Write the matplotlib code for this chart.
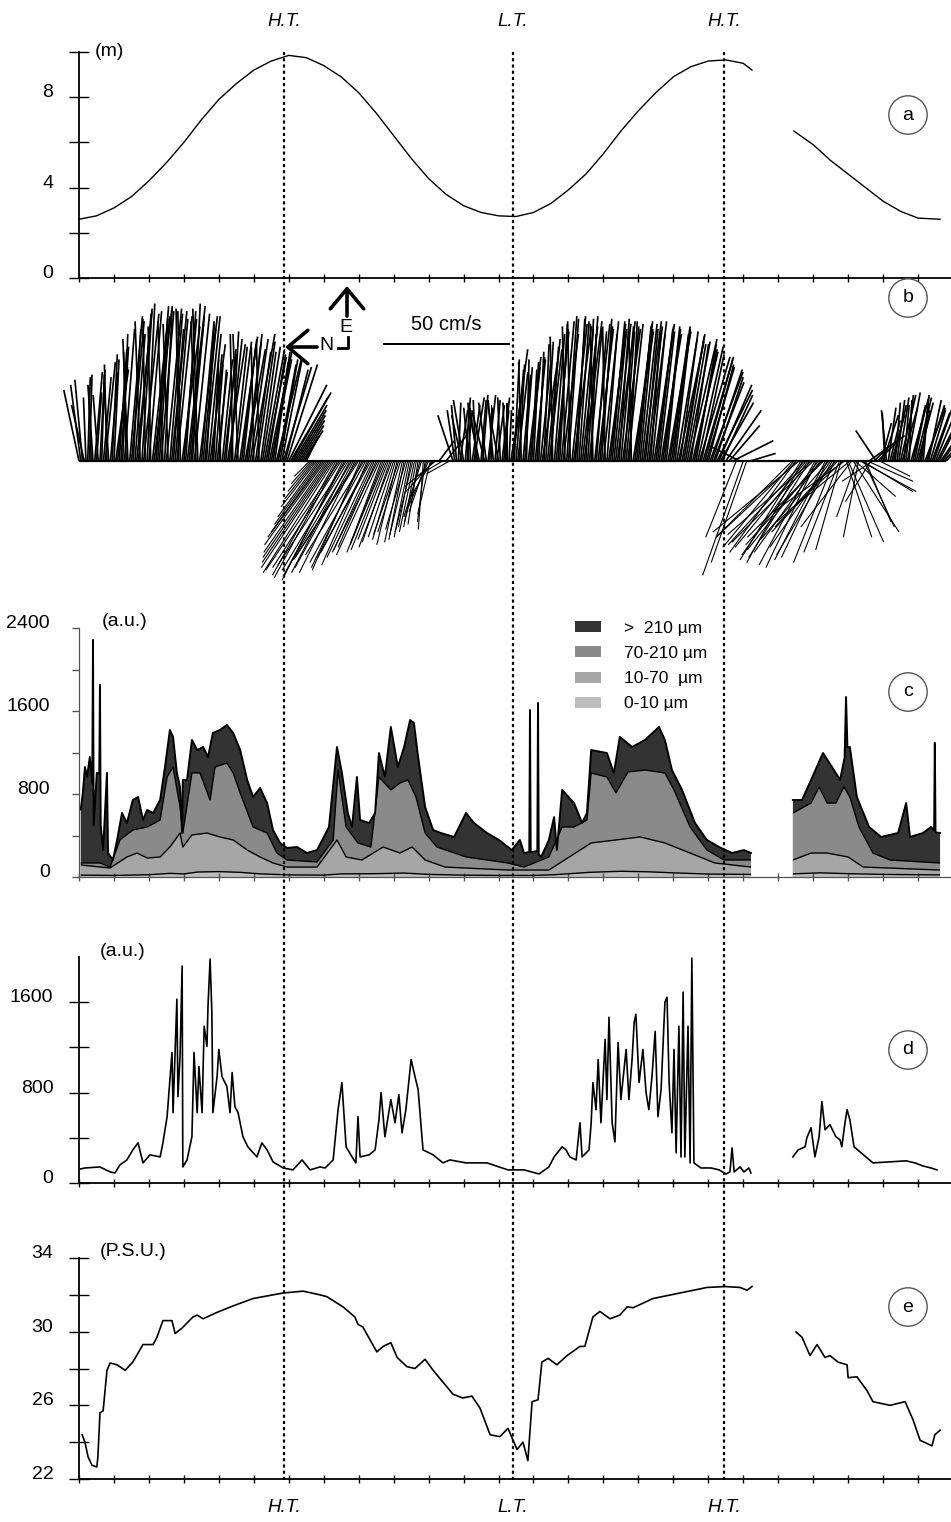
import numpy as np
import matplotlib
matplotlib.use("Agg")
import matplotlib.pyplot as plt
from matplotlib.path import Path
from matplotlib.lines import Line2D

plt.rcParams['font.family'] = ['Liberation Sans', 'DejaVu Sans']

nan = np.nan
W, H = 951, 1522          # output size in pixels (dpi 100)
LEFT = 79                 # x pixel of the time origin
PX_PER_HOUR = 34.96

# tide marks (hours from start of record)
tide_labels = ['H.T.', 'L.T.', 'H.T.']
tide_hours = [5.87, 12.42, 18.46]

# (a) water height (m)
height_t = [0, 0.5, 1, 1.5, 2, 2.5, 3, 3.5, 4, 4.5, 5, 5.5, 6, 6.5, 7, 7.5, 8, 8.5, 9, 9.5,
            10, 10.5, 11, 11.5, 12, 12.5, 13, 13.5, 14, 14.5, 15, 15.5, 16, 16.5, 17, 17.5,
            18, 18.5, 19, 19.25, nan, 20.45, 21, 21.5, 22, 22.5, 23, 23.5, 24, 24.63]
height_m = [2.6, 2.75, 3.1, 3.6, 4.3, 5.1, 6.0, 7.0, 7.9, 8.6, 9.2, 9.6, 9.85, 9.75, 9.4, 8.9,
            8.2, 7.3, 6.3, 5.3, 4.4, 3.7, 3.2, 2.9, 2.75, 2.72, 2.9, 3.3, 3.9, 4.6, 5.5, 6.5,
            7.4, 8.2, 8.9, 9.35, 9.6, 9.65, 9.5, 9.2, nan, 6.5, 5.9, 5.2, 4.6, 4.0, 3.4, 2.95,
            2.65, 2.6]

# (b) current sticks every 0.1 h (cm/s)
stick_t = np.concatenate([np.linspace(0.0, 10.6, 107), np.linspace(10.7, 19.2, 86),
                          np.linspace(20.4, 24.8, 45)])
east = [28, 32, 25, 34, 30, 27, 36, 33, 38, 35, 40, 37, 45, 52, 48, 55, 50, 58,
        60, 56, 59, 54, 61, 57, 55, 60, 58, 52, 57, 59, 56, 61, 54, 58, 60, 55,
        57, 50, 42, 38, 36, 40, 44, 48, 50, 47, 49, 46, 50, 48, 45, 47, 43, 44,
        42, 40, 43, 38, 40, 36, 30, 25, 20, 16, 12, 8, -6, -12, -18, -25, -30, -36,
        -40, -44, -46, -42, -45, -43, -40, -44, -38, -42, -40, -36,
        -38, -34, -37, -33, -35, -32, -30, -33, -28, -31, -29, -26,
        -28, -25, -22, -24, -18, -15, -10, 8, -6, 10, -5,
        18, 22, 20, 24, 19, 23, 25, 21, 24, 20, 26, 22, 24, 21, 25, 23, 20, 44,
        36, 38, 34, 40, 37, 39, 41, 38, 46, 48, 45, 50, 52, 55, 53, 56, 54, 57,
        55, 53, 56, 52, 54, 51, 53, 55, 50, 54, 52, 55, 53, 51, 54, 52, 55, 53,
        54, 52, 55, 50, 53, 51, 52, 49, 53, 50, 48, 51, 49, 47, 46, 44, 45, 42,
        40, 38, 36, 33, 30, 26, 20, 14, 8, -30, 6, -45, -40, 3,
        -30, -36, -28, -40, -34, -38, -32, -42, -36, -30, -38, -34,
        -40, -28, -35, -20, -32, -26, -14, -30, -12, -24, 10, -8,
        12, -6, 18, 20, 16, 22, 24, 26, 22, 27, 25, 20, 23, 26, 21, 24, 19, 22,
        20, 17, 14]
north = [6, 3, 1, -1, 2, -2, -2, -3, 1, -3, -2, -4, -3, -4, 2, -5, -4, -5,
         -4, 1, -5, -6, -5, -4, 2, -6, -5, -4, -6, 1, -5, -7, -5, -6, 2, -5,
         -6, -5, -4, -3, -3, -4, -4, -5, 1, -6, -7, -5, -6, -7, 1, -7, -6, -8,
         -7, -8, -6, -7, -8, -9, -15, -14, -12, -10, -8, -4, 6, 10, 14, 18, 22, 25,
         27, 28, 25, 27, 24, 26, 24, 22, 25, 20, 22, 19,
         18, 15, 17, 13, 14, 11, 10, 8, 9, 6, 7, 5,
         6, 4, 7, 3, 8, 9, 12, -6, 10, -8, 9,
         6, 2, -3, 4, -2, 1, -4, 3, -2, 5, -3, 0, -2, 4, -3, 1, -1, -6,
         -3, -2, -3, -1, -4, -2, -3, -4, -2, -5, -3, -4, -4, -5, 1, -4, -6, -4,
         -4, -6, -3, -5, 1, -4, -5, -6, -4, -6, -5, -7, -5, -4, -6, 1, -7, -5,
         -6, -5, -7, -5, -7, -6, -7, -5, -8, -6, -8, -7, -8, -9, -7, -9, -10, -9,
         -11, -10, -12, -11, -13, -12, -14, -12, -16, 12, 12, 16, 14, -10,
         30, 26, 34, 22, 28, 24, 32, 20, 26, 30, 18, 24,
         16, 26, 10, 28, -14, 20, -16, 6, -20, -10, -14, 12,
         8, -12, -6, 2, -4, -5, -3, -6, -2, -5, -7, -4, -6, -3, -8, -5, -7, -9,
         -10, -12, -14]
# extra sticks at the half-steps where the record is densest
stick_t_half = np.concatenate([np.linspace(0.05, 6.45, 65), np.linspace(6.65, 10.15, 36),
                               np.linspace(10.75, 12.35, 17), np.linspace(12.45, 18.35, 60),
                               np.linspace(22.85, 24.75, 20), np.linspace(20.45, 22.75, 24)])
east_half = [30, 22, 33, 29, 35, 26, 34, 39, 31, 42, 36, 44, 50, 43, 57, 52, 59, 55,
             58, 62, 53, 60, 56, 59, 61, 54, 59, 56, 60, 53, 59, 57, 62, 55, 57, 52,
             54, 46, 40, 35, 38, 42, 46, 51, 45, 50, 48, 44, 47, 50, 43, 46, 45, 41,
             44, 39, 41, 40, 37, 38, 27, 22, 18, 14, 10,
             -9, -15, -22, -28, -33, -38, -42, -45, -43, -47, -41, -44,
             -42, -39, -43, -37, -41, -38, -35, -36, -32, -36, -31, -34,
             -31, -29, -32, -27, -30, -28, -26, -24, -27, -20, -21, -12,
             20, 23, 18, 25, 21, 22, 24, 19, 26, 23, 21, 24, 22, 25, 20, 23, 30,
             40, 35, 39, 37, 41, 36, 40, 43, 39, 47, 44, 49, 51, 54, 50, 57, 55, 53,
             56, 52, 55, 57, 50, 54, 52, 56, 53, 51, 55, 54, 56, 52, 53, 55, 51, 54,
             52, 55, 53, 51, 54, 52, 50, 53, 51, 49, 52, 47, 50, 46, 48, 43, 46, 41,
             41, 37, 35, 31, 28, 23,
             8, 15, 19, 21, 18, 23, 25, 21, 26, 24, 22, 25, 20, 24, 22, 20, 23, 18, 16, 15,
             -34, -30, -39, -33, -37, -29, -41, -35, -33, -39, -31, -37,
             -26, -36, -24, -30, -18, -28, -22, -12, -26, -8, -16, 6]
north_half = [4, 5, -1, 1, -3, 2, -1, -4, 2, -2, -5, -3, -2, 1, -5, -3, -6, 2,
              -6, -3, 1, -7, -4, -5, -3, 2, -6, -5, 1, -7, -4, -6, -3, 2, -7, -5,
              -3, -6, -2, -4, 1, -5, -7, -3, -5, 2, -6, -8, -5, -9, -6, 1, -7, -8,
              -9, -6, -10, -7, -11, -12, -16, -13, -11, -9, -6,
              8, 12, 16, 20, 24, 26, 28, 25, 29, 24, 27, 23,
              23, 25, 19, 23, 18, 21, 16, 18, 12, 15, 12, 13,
              9, 10, 7, 8, 6, 7, 5, 6, 2, 7, 5, 11,
              3, -1, 4, -2, 2, -3, 1, 4, -2, 3, -1, 2, -3, 1, -2, 0, -5,
              -2, -4, 1, -3, -5, -2, -4, -2, -6, -3, -5, 1, -5, -3, -6, -4, 1, -7,
              -3, -5, -7, -4, -2, -6, -6, -4, 1, -7, -5, -6, -4, -7, -5, -3, -8, -6,
              -5, -7, -6, -4, -8, -6, -8, -6, -9, -7, -6, -10, -9, -8, -11, -10, -8, -12,
              -12, -11, -13, -12, -14, -13,
              -8, -4, 1, -3, -5, -2, -4, -6, -3, -1, -5, -6, -4, -2, -7, -6, -8, -9, -11, -13,
              28, 32, 24, 30, 26, 33, 22, 28, 30, 20, 27, 22,
              24, 14, 26, -10, 22, -18, 8, -22, -12, -18, 10, -6]

# (c) particle concentration by size class (a.u.), cumulative levels
c_top_t = [0.05, 0.11, 0.17, 0.23, 0.31, 0.38, 0.40, 0.42, 0.51, 0.58, 0.60, 0.62, 0.69, 0.80,
           0.83, 0.97, 1.09, 1.23, 1.37, 1.54, 1.69, 1.83, 1.95, 2.12, 2.32, 2.46, 2.60, 2.69,
           2.80, 2.89, 2.95, 2.97, 3.09, 3.23, 3.38, 3.55, 3.69, 3.83, 4.03, 4.23, 4.41, 4.61,
           4.81, 4.98, 5.18, 5.38, 5.55, 5.75, 5.95, 6.24, 6.52, 6.81, 7.15, 7.38, 7.52, 7.69,
           7.81, 7.95, 8.04, 8.30, 8.47, 8.58, 8.75, 8.92, 9.12, 9.30, 9.47, 9.58, 9.70, 9.90,
           10.13, 10.35, 10.73, 11.07, 11.30, 11.67, 12.01, 12.38, 12.61, 12.73, 12.88, 12.90,
           12.92, 13.11, 13.13, 13.15, 13.22, 13.44, 13.59, 13.67, 13.82, 14.16, 14.39, 14.53,
           14.65, 15.10, 15.30, 15.47, 15.82, 16.19, 16.59, 16.76, 16.96, 17.25, 17.62, 17.96,
           18.31, 18.68, 19.02, 19.22, nan, 20.42, 20.68, 20.94, 21.28, 21.54, 21.77, 21.90,
           21.94, 21.98, 22.05, 22.25, 22.60, 22.94, 23.43, 23.66, 23.77, 24.14, 24.37, 24.46,
           24.48, 24.50, 24.63]
c_top = [650, 810, 1060, 964, 1157, 900, 2285, 500, 1003, 1000, 1851, 500, 260, 1003,
         231, 164, 357, 617, 520, 742, 771, 549, 646, 617, 742, 1060, 1417, 1350,
         1003, 868, 424, 935, 935, 1321, 1224, 1253, 1157, 1388, 1417, 1465, 1388, 1224,
         935, 771, 858, 713, 453, 328, 280, 289, 231, 260, 482, 1253, 1003, 617,
         482, 964, 549, 520, 617, 1195, 964, 1446, 1060, 1253, 1513, 1485, 1157, 675,
         453, 424, 386, 617, 520, 424, 357, 260, 357, 231, 240, 1610,
         240, 250, 1677, 220, 193, 357, 578, 260, 839, 713, 520, 617,
         1224, 1195, 1003, 1350, 1253, 1321, 1446, 1321, 1031, 839, 520, 357,
         289, 231, 260, 231, nan, 742, 742, 935, 1195, 1060, 935, 1150,
         1735, 1250, 1253, 771, 482, 386, 424, 713, 386, 424, 482, 450,
         1292, 430, 424]
c_mid_t = [0.05, 0.60, 0.89, 1.17, 1.54, 1.95, 2.32, 2.52, 2.69, 2.89, 2.97, 3.23, 3.46, 3.75,
           3.89, 4.23, 4.41, 4.61, 4.98, 5.38, 5.66, 5.95, 6.81, 7.27, 7.41, 7.64, 7.98, 8.35,
           8.58, 8.92, 9.18, 9.41, 9.64, 9.90, 10.24, 11.07, 12.27, 12.73, 13.44, 13.82, 14.16,
           14.53, 14.65, 15.10, 15.36, 15.70, 16.19, 16.76, 17.02, 17.48, 17.96, 18.45, 19.22,
           nan, 20.42, 20.94, 21.17, 21.40, 21.65, 21.88, 22.05, 22.31, 22.71, 23.20, 24.63]
c_mid = [135, 135, 96, 357, 453, 482, 549, 964, 1060, 675, 424, 1003, 1003, 742,
         1060, 1099, 1003, 810, 482, 424, 231, 164, 145, 357, 1031, 482, 328, 289,
         964, 839, 906, 935, 771, 424, 289, 193, 135, 96, 193, 482, 482,
         549, 1003, 964, 810, 1012, 1031, 1003, 839, 482, 260, 164, 164,
         nan, 617, 713, 868, 713, 713, 868, 771, 482, 231, 164, 135]
c_low_t = [0.05, 0.89, 1.37, 1.66, 1.95, 2.32, 2.60, 2.89, 2.97, 3.23, 3.66, 4.03, 4.41, 4.81,
           5.18, 5.55, 5.95, 6.81, 7.38, 7.64, 8.09, 8.70, 9.18, 9.53, 9.90, 10.47, 12.27,
           13.44, 14.65, 15.36, 16.05, 16.76, 17.48, 18.19, 19.22, nan, 20.42, 20.94, 21.40,
           22.00, 22.43, 24.63]
c_low = [116, 87, 193, 231, 183, 193, 289, 424, 289, 405, 424, 386, 357, 260,
         193, 135, 96, 96, 357, 193, 164, 289, 231, 289, 164, 96, 67,
         67, 328, 357, 386, 328, 231, 135, 96, nan, 164, 231, 231,
         193, 96, 67]
c_fine_t = [0.05, 1, 2, 2.6, 3.0, 3.4, 4.0, 4.6, 5.2, 6, 7, 7.5, 8.5, 9.3, 10, 11, 12, 13, 13.6,
            14.6, 15.5, 16.3, 17, 18, 19.22, nan, 20.42, 21.2, 22, 23, 24, 24.63]
c_fine = [18, 15, 22, 35, 30, 48, 52, 45, 30, 20, 18, 30, 32, 38, 25, 18, 15, 15, 22,
          45, 55, 50, 40, 28, 25, nan, 30, 40, 32, 25, 22, 20]
size_classes = ['>  210 µm', '70-210 µm', '10-70  µm', '0-10 µm']
size_colors = ['#333333', '#8a8a8a', '#a6a6a6', '#bcbcbc']

# (d) turbidity (a.u.)
d_t = [0.05, 0.17, 0.60, 0.89, 1.03, 1.17, 1.37, 1.54, 1.69, 1.83, 2.03, 2.32, 2.40, 2.52, 2.66,
       2.69, 2.80, 2.83, 2.89, 2.95, 2.97, 3.09, 3.23, 3.29, 3.38, 3.43, 3.52, 3.58, 3.66, 3.69,
       3.75, 3.80, 3.83, 3.95, 4.00, 4.09, 4.23, 4.32, 4.38, 4.46, 4.55, 4.69, 4.83, 5.09, 5.23,
       5.38, 5.55, 5.84, 6.12, 6.38, 6.61, 6.89, 7.04, 7.27, 7.41, 7.52, 7.64, 7.81, 7.92, 7.98,
       8.04, 8.30, 8.47, 8.58, 8.64, 8.75, 8.92, 9.04, 9.15, 9.24, 9.35, 9.50, 9.61, 9.70, 9.84,
       10.13, 10.41, 10.61, 11.07, 11.67, 12.27, 12.73, 13.16, 13.44, 13.59, 13.82, 13.93, 14.04,
       14.22, 14.33, 14.39, 14.59, 14.65, 14.70, 14.79, 14.85, 14.93, 15.05, 15.10, 15.16, 15.25,
       15.33, 15.42, 15.50, 15.65, 15.73, 15.82, 15.88, 15.93, 16.02, 16.13, 16.22, 16.30, 16.39,
       16.48, 16.56, 16.65, 16.76, 16.82, 16.88, 16.96, 17.02, 17.08, 17.16, 17.22, 17.28, 17.33,
       17.42, 17.48, 17.53, 17.59, 17.79, 18.08, 18.31, 18.51, 18.62, 18.68, 18.74, 18.91, 19.02,
       19.16, 19.22, nan,
       20.42, 20.57, 20.77, 20.82, 20.94, 21.05, 21.17, 21.25, 21.34, 21.48, 21.65, 21.77, 21.82,
       21.91, 21.97, 22.05, 22.17, 22.37, 22.54, 22.71, 23.20, 23.66, 23.91, 24.14, 24.37, 24.54]
d_val = [125, 133, 142, 98, 89, 160, 204, 293, 355, 178, 249, 231, 355, 587, 1155,
         622, 1627, 764, 1120, 1920, 142, 204, 409, 1155, 622, 1031, 622, 1387, 1209, 1564,
         1982, 1511, 622, 942, 1182, 942, 853, 622, 978, 676, 622, 409, 320, 231, 355,
         293, 187, 133, 116, 204, 116, 142, 133, 204, 649, 889, 320, 231, 178, 587,
         231, 249, 293, 560, 800, 409, 738, 533, 782, 444, 649, 1093, 942, 827, 293,
         249, 178, 204, 178, 178, 116, 116, 80, 142, 231, 320, 293, 231,
         204, 533, 231, 293, 533, 889, 649, 1093, 533, 1271, 738, 1467, 533,
         364, 1244, 738, 1182, 738, 1093, 1422, 1493, 889, 1182, 800, 649, 942,
         1342, 587, 827, 1600, 1644, 889, 444, 1182, 267, 1387, 231, 1689, 231,
         1387, 178, 1990, 178, 133, 133, 116, 80, 98, 311, 98, 142, 98,
         133, 89, nan,
         231, 293, 320, 400, 489, 231, 409, 720, 471, 516, 409, 382, 320,
         533, 649, 560, 320, 267, 222, 178, 187, 196, 178, 151, 133, 116]

# (e) salinity (P.S.U.)
sal_t = [0.09, 0.17, 0.26, 0.37, 0.51, 0.54, 0.60, 0.69, 0.80, 0.89, 1.09, 1.32, 1.54, 1.83,
         2.12, 2.23, 2.40, 2.66, 2.75, 2.95, 3.26, 3.38, 3.55, 3.95, 4.41, 4.98, 5.84, 6.41,
         6.89, 7.09, 7.55, 7.89, 7.98, 8.12, 8.52, 8.70, 8.92, 9.10, 9.38, 9.61, 9.90, 10.13,
         10.70, 10.98, 11.24, 11.47, 11.76, 12.04, 12.27, 12.53, 12.70, 12.84, 12.96, 13.13,
         13.24, 13.42, 13.67, 13.96, 14.33, 14.47, 14.70, 14.90, 15.19, 15.47, 15.68, 15.85,
         16.42, 17.19, 17.96, 18.48, 18.91, 19.11, 19.25, nan,
         20.51, 20.68, 20.91, 21.11, 21.34, 21.48, 21.71, 21.97, 22.00, 22.25, 22.54, 22.71,
         23.20, 23.63, 23.86, 24.06, 24.40, 24.48, 24.63]
sal_psu = [24.4, 24.0, 23.2, 22.75, 22.65, 23.2, 25.6, 25.7, 27.9, 28.3, 28.2, 27.9, 28.35, 29.3,
           29.3, 29.7, 30.6, 30.6, 29.9, 30.2, 30.8, 30.9, 30.7, 31.05, 31.4, 31.8, 32.1, 32.2,
           32.0, 31.9, 31.35, 30.8, 30.4, 30.25, 28.9, 29.2, 29.4, 28.6, 28.1, 28.0, 28.5, 27.9,
           26.6, 26.4, 26.5, 25.85, 24.4, 24.3, 24.75, 23.6, 24.0, 23.0, 26.2, 26.3,
           28.35, 28.55, 28.2, 28.7, 29.2, 29.2, 30.8, 31.1, 30.7, 30.9, 31.35, 31.3,
           31.8, 32.1, 32.4, 32.45, 32.4, 32.25, 32.45, nan,
           29.98, 29.7, 28.7, 29.3, 28.6, 28.7, 28.35, 28.2, 27.5, 27.55, 26.8, 26.2,
           26.0, 26.2, 25.2, 24.1, 23.8, 24.4, 24.65]

X_END = (W - LEFT) / PX_PER_HOUR


def fx(px):
    return px / W


def fy(py):
    return 1 - py / H


def panel(top, bottom):
    return fig.add_axes([LEFT / W, 1 - bottom / H, 1 - LEFT / W, (bottom - top) / H])


def style(ax, ylim, yticks, ylabels, ydir='inout', ylen=15, pad=11, color='k', lw=1.3):
    ax.set_xlim(0, X_END)
    ax.set_ylim(*ylim)
    ax.patch.set_visible(False)
    for s in ('top', 'right'):
        ax.spines[s].set_visible(False)
    for s in ('left', 'bottom'):
        ax.spines[s].set_linewidth(lw)
        ax.spines[s].set_color(color)
    ax.set_xticks(np.arange(0, 25))
    ax.tick_params(axis='x', direction='inout', length=6, width=1, color=color,
                   labelbottom=False)
    ax.set_yticks(yticks, ylabels)
    ax.tick_params(axis='y', direction=ydir, length=ylen, width=1, color=color,
                   labelsize=14, pad=pad)
    for lab in ax.get_yticklabels():
        lab.set_va('baseline')


fig = plt.figure(figsize=(W / 100, H / 100), dpi=100)

# (a) tide
ax_a = panel(52, 278)
ax_a.plot(height_t, height_m, color='k', lw=1.0)
style(ax_a, (0, 10), [0, 2, 4, 6, 8, 10], ['0', '', '4', '', '8', ''])

# (b) current sticks: eastward (upward) ones drawn heavier than westward ones
ax_b = panel(290, 632)
ax_b.set_xlim(0, X_END)
ax_b.set_ylim(-1, 1)
ax_b.axis('off')
ax_b.hlines(0, stick_t[0], stick_t[-1], color='k', lw=1.6)
all_t = np.concatenate([stick_t, stick_t_half])
all_e = np.array(east + east_half, dtype=float)
all_n = np.array(north + north_half, dtype=float)
stick_kw = dict(angles='uv', scale_units='inches', scale=100 / 2.54, units='dots',
                headwidth=0, headlength=0, headaxislength=0, pivot='tail', color='k',
                clip_on=False)
up = all_e > 0
ax_b.quiver(all_t[up], np.zeros(up.sum()), -all_n[up], all_e[up], width=1.7, **stick_kw)
q = ax_b.quiver(all_t[~up], np.zeros((~up).sum()), -all_n[~up], all_e[~up], width=1.1,
                **stick_kw)
ax_b.quiverkey(q, fx(446), fy(344), 50, '50 cm/s', labelpos='N', coordinates='figure',
               fontproperties={'size': 14.5})
arrow_kw = dict(arrowstyle='->,head_length=0.72,head_width=0.6', lw=2.6, color='k',
                mutation_scale=20, shrinkA=0, shrinkB=0)
ax_b.annotate('', xy=(fx(347), fy(286)), xycoords='figure fraction',
              xytext=(fx(347), fy(316)), textcoords='figure fraction', arrowprops=arrow_kw)
ax_b.annotate('', xy=(fx(285), fy(347)), xycoords='figure fraction',
              xytext=(fx(317), fy(347)), textcoords='figure fraction', arrowprops=arrow_kw)
fig.add_artist(Line2D([fx(338), fx(348), fx(348)], [fy(348), fy(348), fy(337)],
                      transform=fig.transFigure, color='k', lw=2))
fig.text(fx(326), fy(346), 'N', fontsize=14, ha='center', va='center')
fig.text(fx(346), fy(327), 'E', fontsize=14, ha='center', va='center')

# (c) size classes, drawn from the top level down and clipped to the total
ax_c = panel(628, 877)
clip = None
handles = []
for t, v, col, lab in zip([c_top_t, c_mid_t, c_low_t, c_fine_t], [c_top, c_mid, c_low, c_fine],
                          size_colors, size_classes):
    poly = ax_c.fill_between(t, 0, v, color=col, lw=0, label=lab)
    line, = ax_c.plot(t, v, color='k', lw=1.4 if clip is None else 1.0)
    if clip is None:
        clip = Path.make_compound_path(*poly.get_paths())
    else:
        poly.set_clip_path(clip, ax_c.transData)
        line.set_clip_path(clip, ax_c.transData)
    handles.append(poly)
style(ax_c, (0, 2400), np.arange(0, 2401, 400), ['0', '', '800', '', '1600', '', '2400'],
      ydir='out', ylen=5, pad=16, color='#555555', lw=0.9)
ax_c.legend(handles=handles, loc='upper left', bbox_to_anchor=(fx(575), fy(621)),
            bbox_transform=fig.transFigure, frameon=False, fontsize=12.5, handlelength=1.5,
            handleheight=0.6, handletextpad=1.3, labelspacing=0.58, borderpad=0,
            borderaxespad=0)

# (d) turbidity
ax_d = panel(957, 1183)
ax_d.plot(d_t, d_val, color='k', lw=1.2)
style(ax_d, (0, 2000), [0, 400, 800, 1200, 1600], ['0', '', '800', '', '1600'])

# (e) salinity
ax_e = panel(1258, 1479)
ax_e.plot(sal_t, sal_psu, color='k', lw=1.2)
style(ax_e, (22, 34), [22, 24, 26, 28, 30, 32, 34], ['22', '', '26', '', '30', '', '34'])

# units and panel letters
for txt, px, py in [('(m)', 109, 51), ('(a.u.)', 125, 622), ('(a.u.)', 123, 952),
                    ('(P.S.U.)', 133, 1251)]:
    fig.text(fx(px), fy(py), txt, fontsize=14, ha='center', va='center')
for txt, py in zip('abcde', [115, 298, 692, 1050, 1307]):
    fig.text(fx(908), fy(py), txt, fontsize=14, ha='center', va='center',
             bbox=dict(boxstyle='circle,pad=0.55', fc='white', ec='#555555', lw=1))

# tide lines across all panels
ax_o = panel(52, 1480)
ax_o.set_xlim(0, X_END)
ax_o.axis('off')
ax_o.set_zorder(5)
for h, lab in zip(tide_hours, tide_labels):
    ax_o.axvline(h, color='k', lw=1.6, ls=(0, (1.4, 1.4)))
    ax_o.text(h, 1 + 30 / 1428, lab, transform=ax_o.get_xaxis_transform(), fontsize=13.5,
              style='italic', ha='center', va='center')
    ax_o.text(h, -28 / 1428, lab, transform=ax_o.get_xaxis_transform(), fontsize=13.5,
              style='italic', ha='center', va='center')

fig.savefig('out.png', dpi=100)
